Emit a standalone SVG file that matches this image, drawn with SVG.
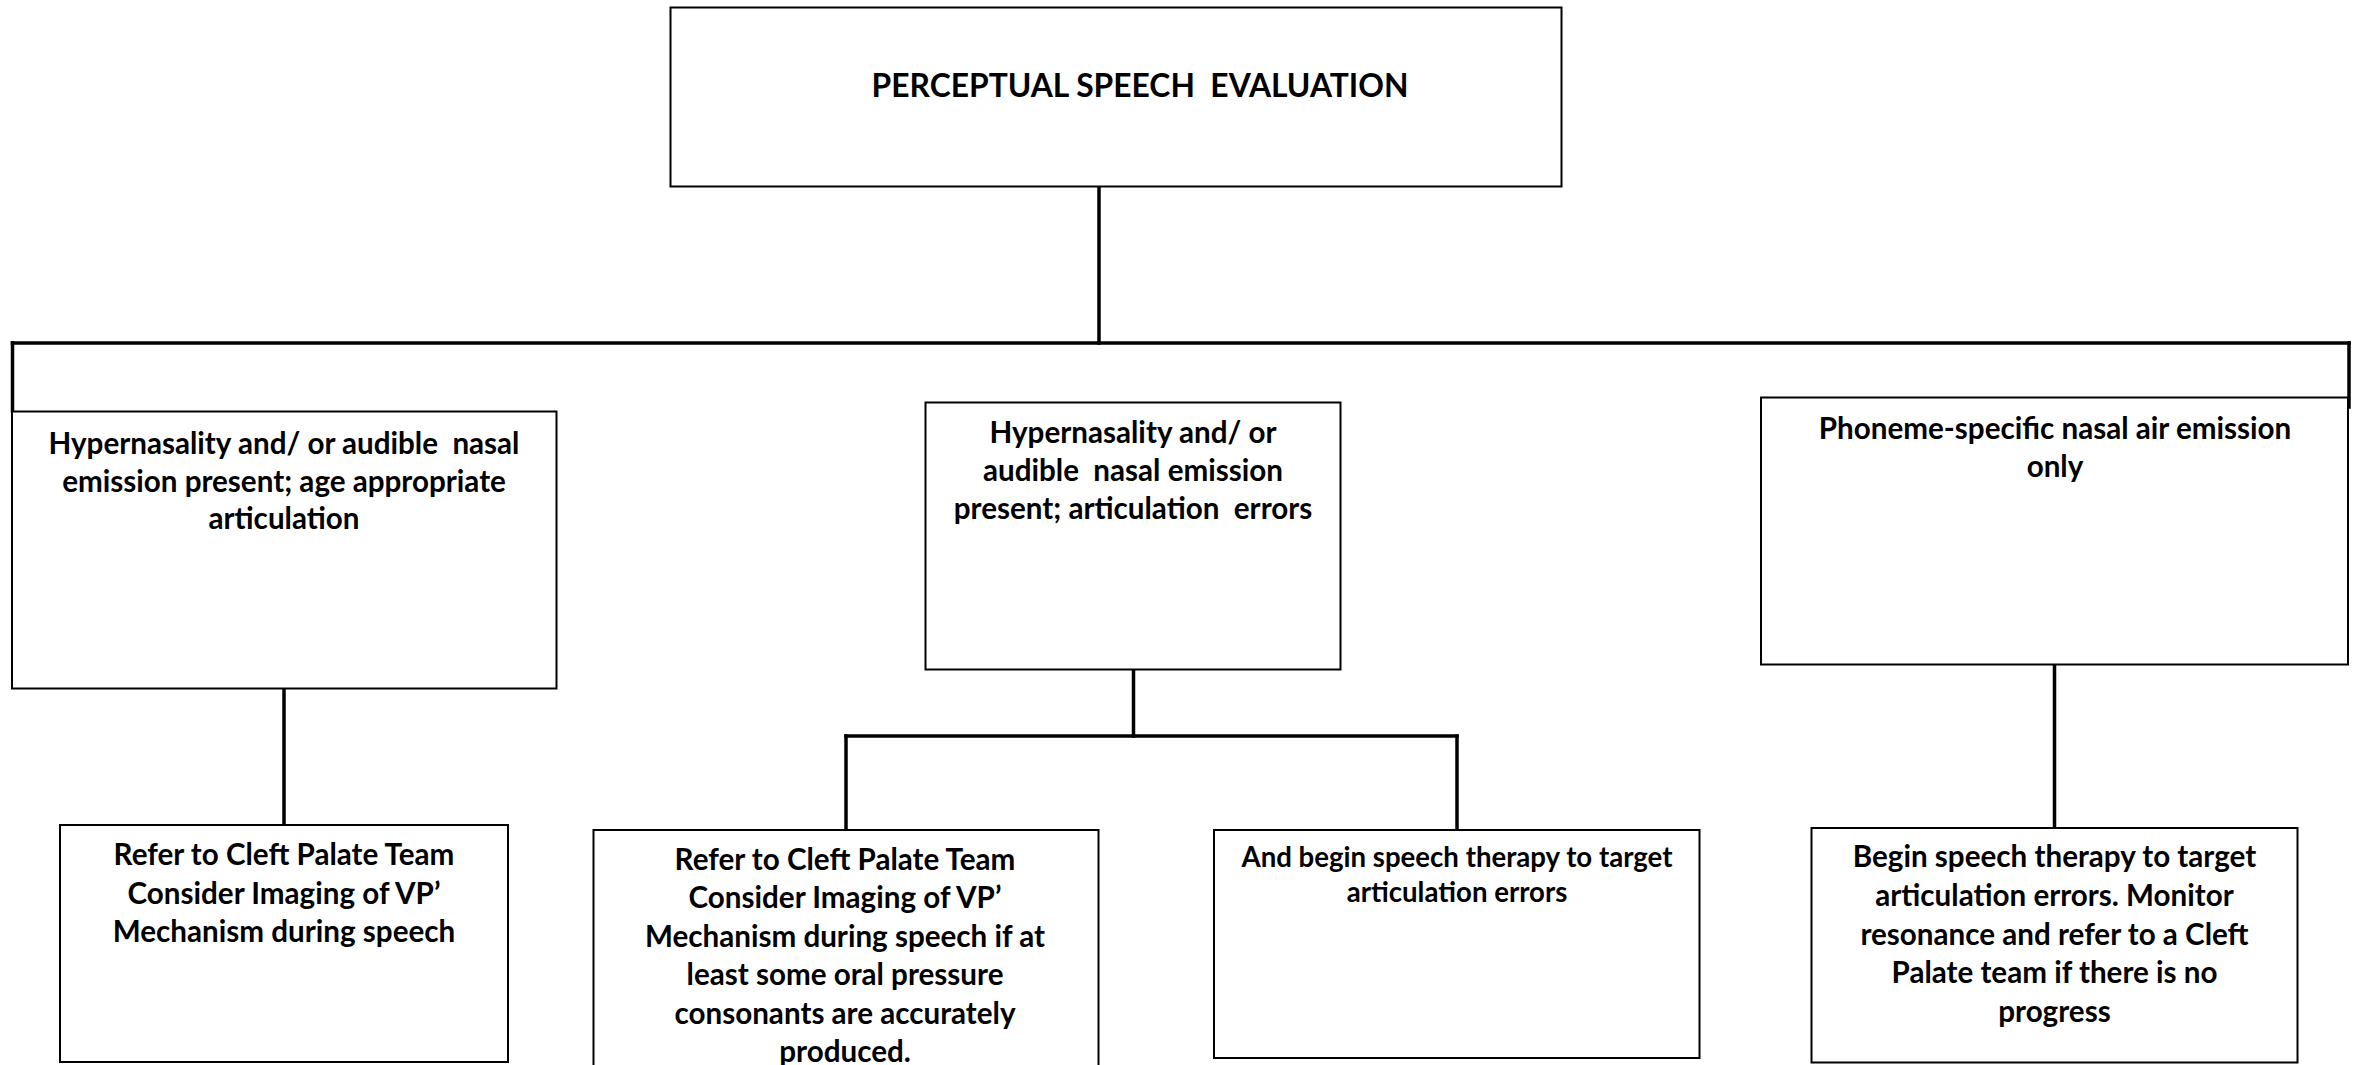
<svg xmlns="http://www.w3.org/2000/svg" width="2356" height="1065" viewBox="0 0 2356 1065">
<style>
.box{fill:#fff;stroke:#000;stroke-width:2}
.t{font-family:Lato,"Open Sans","Liberation Sans",sans-serif;font-weight:bold;font-size:29.6px;fill:#000;text-anchor:middle;white-space:pre}
.title{font-size:31.8px}
.s{font-size:27.6px}
.c{fill:none;stroke:#000;stroke-width:3.5;stroke-linecap:square}
</style>
<rect width="2356" height="1065" fill="#fff"/>
<g id="connectors">
<line class="c" x1="1099" y1="187" x2="1099" y2="343"/>
<line class="c" x1="12.5" y1="343" x2="2349" y2="343"/>
<line class="c" x1="12.5" y1="343" x2="12.5" y2="411"/>
<line class="c" x1="2349" y1="343" x2="2349" y2="407"/>
<line class="c" x1="284" y1="689" x2="284" y2="824"/>
<line class="c" x1="1133.5" y1="670" x2="1133.5" y2="736"/>
<line class="c" x1="846" y1="736" x2="1457" y2="736"/>
<line class="c" x1="846" y1="736" x2="846" y2="829"/>
<line class="c" x1="1457" y1="736" x2="1457" y2="829"/>
<line class="c" x1="2054.5" y1="665" x2="2054.5" y2="827"/>
</g>
<g id="n0">
<rect class="box" x="670.5" y="7.5" width="891" height="179"/>
<text class="t title" x="1140" y="97" xml:space="preserve">PERCEPTUAL SPEECH  EVALUATION</text>
</g>
<g id="n1">
<rect class="box" x="12" y="411.5" width="544.5" height="277"/>
<text class="t" x="284" y="453.5" xml:space="preserve">Hypernasality and/ or audible  nasal</text>
<text class="t" x="284" y="491.5">emission present; age appropriate</text>
<text class="t" x="284" y="529">articulation</text>
</g>
<g id="n2">
<rect class="box" x="925.5" y="402.5" width="415" height="267"/>
<text class="t" x="1133" y="443">Hypernasality and/ or</text>
<text class="t" x="1133" y="481" xml:space="preserve">audible  nasal emission</text>
<text class="t" x="1133" y="518.5" xml:space="preserve">present; articulation  errors</text>
</g>
<g id="n3">
<rect class="box" x="1761" y="397.5" width="587" height="267"/>
<text class="t" x="2055" y="438.5">Phoneme-specific nasal air emission</text>
<text class="t" x="2055" y="477">only</text>
</g>
<g id="n4">
<rect class="box" x="60" y="825" width="448" height="237"/>
<text class="t" x="284" y="865">Refer to Cleft Palate Team</text>
<text class="t" x="284" y="903.5">Consider Imaging of VP’</text>
<text class="t" x="284" y="942">Mechanism during speech</text>
</g>
<g id="n5">
<rect class="box" x="593.5" y="830" width="505" height="240"/>
<text class="t" x="845" y="869.5">Refer to Cleft Palate Team</text>
<text class="t" x="845" y="908">Consider Imaging of VP’</text>
<text class="t" x="845" y="946.5">Mechanism during speech if at</text>
<text class="t" x="845" y="985">least some oral pressure</text>
<text class="t" x="845" y="1023.5">consonants are accurately</text>
<text class="t" x="845" y="1062">produced.</text>
</g>
<g id="n6">
<rect class="box" x="1214" y="830" width="485.5" height="228"/>
<text class="t s" x="1457" y="867.3">And begin speech therapy to target</text>
<text class="t s" x="1457" y="902.3">articulation errors</text>
</g>
<g id="n7">
<rect class="box" x="1811.5" y="828" width="486" height="234.5"/>
<text class="t" x="2054.5" y="867.3">Begin speech therapy to target</text>
<text class="t" x="2054.5" y="906">articulation errors. Monitor</text>
<text class="t" x="2054.5" y="944.7">resonance and refer to a Cleft</text>
<text class="t" x="2054.5" y="983.3">Palate team if there is no</text>
<text class="t" x="2054.5" y="1021.7">progress</text>
</g>
</svg>
